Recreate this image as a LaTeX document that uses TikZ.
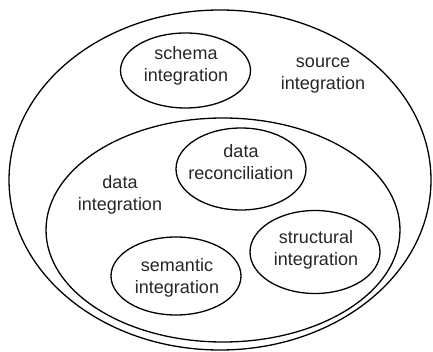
\documentclass[tikz,border=0pt]{standalone}
\usepackage{fontspec}
\setmainfont{Liberation Sans}
\begin{document}
\begin{tikzpicture}[x=1pt,y=-1pt,
  ring/.style={draw=black,line width=1.3pt},
  lbl/.style={align=center,font=\fontsize{18}{22}\selectfont,text=black!85,inner sep=0pt}]
\useasboundingbox (0,0) rectangle (433,352);
\begin{scope}
\clip (0,0) rectangle (433,352);
\draw[ring] (220,180) ellipse [x radius=211, y radius=170];
\end{scope}
\draw[ring] (223,230) ellipse [x radius=177, y radius=112];
\draw[ring] (185.5,70.5) ellipse [x radius=65, y radius=37.5];
\draw[ring] (241,169) ellipse [x radius=65, y radius=41];
\draw[ring] (315,252) ellipse [x radius=65, y radius=41.5];
\draw[ring] (176,276) ellipse [x radius=65, y radius=39];
\node[lbl] (src) at (323,76) {source\\integration};
\node[lbl] (di) at (120,195) {data\\integration};
\node[lbl] (sch) at (186,66) {schema\\integration};
\node[lbl] (rec) at (241,162) {data\\reconciliation};
\node[lbl] (str) at (316,250) {structural\\integration};
\node[lbl] (sem) at (177,278) {semantic\\integration};
\end{tikzpicture}
\end{document}
